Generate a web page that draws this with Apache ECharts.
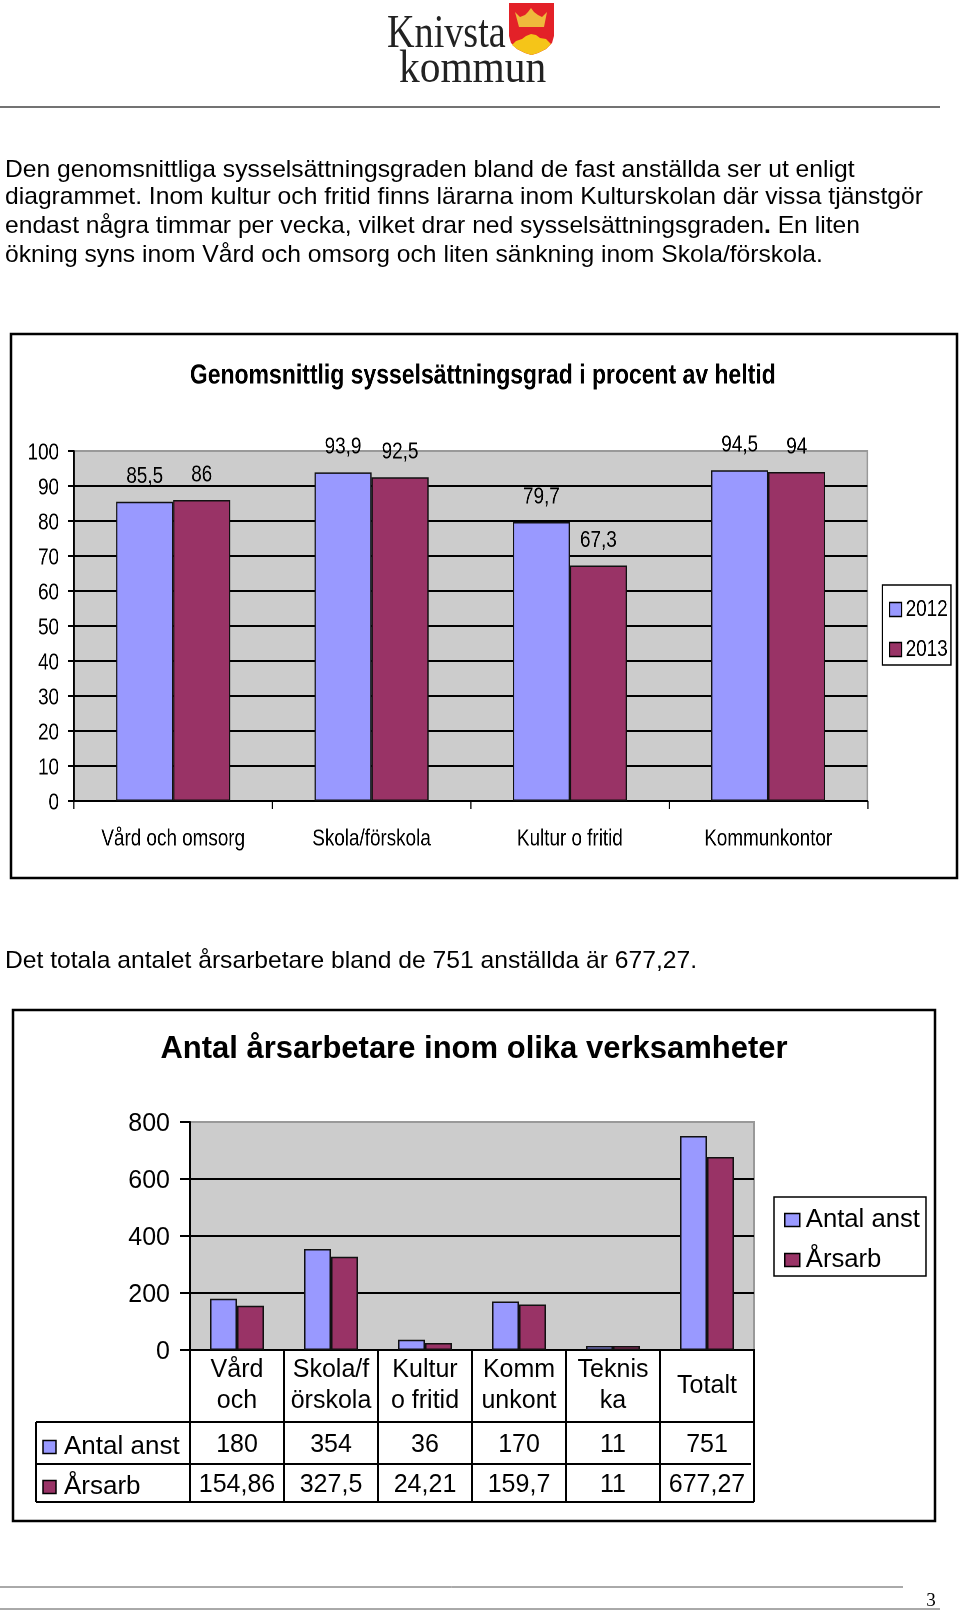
<!DOCTYPE html>
<html><head><meta charset="utf-8">
<style>html,body{margin:0;padding:0;background:#fff}#page{position:absolute;left:0;top:0;width:960px;height:1612px}
#c1{position:absolute;left:0;top:320px;width:1170.7px;height:560px;transform:scaleX(.82);transform-origin:0 0}</style>
<script src="https://cdn.jsdelivr.net/npm/echarts@6/dist/echarts.min.js"></script>
</head><body><div id="page"></div><div id="c1"></div>
<script>
const bodyLines = [
 'Den genomsnittliga sysselsättningsgraden bland de fast anställda ser ut enligt',
 'diagrammet. Inom kultur och fritid finns lärarna inom Kulturskolan där vissa tjänstgör',
 'endast några timmar per vecka, vilket drar ned sysselsättningsgraden{b|.} En liten',
 'ökning syns inom Vård och omsorg och liten sänkning inom Skola/förskola.'
];
const bodyAfter = 'Det totala antalet årsarbetare bland de 751 anställda är 677,27.';
const title1 = 'Genomsnittlig sysselsättningsgrad i procent av heltid';
const title2 = 'Antal årsarbetare inom olika verksamheter';
const cats1 = ['Vård och omsorg','Skola/förskola','Kultur o fritid','Kommunkontor'];
const y2012 = [85.5, 93.9, 79.7, 94.5];
const y2013 = [86, 92.5, 67.3, 94];
const cats2 = ['Vård\noch','Skola/f\nörskola','Kultur\no fritid','Komm\nunkont','Teknis\nka','Totalt'];
const antalAnst = [180, 354, 36, 170, 11, 751];
const arsarb = [154.86, 327.5, 24.21, 159.7, 11, 677.27];
const BLUE='#9999FF', PLUM='#993366', INK='#000';
const SANS='"Liberation Sans",Arial,sans-serif', SERIF='"Liberation Serif",serif';
const comma = v => String(v).replace('.',',');
const SX=.82, ix=x=>x/SX;

const page = echarts.init(document.getElementById('page'), null, {width:960,height:1612});
const c1 = echarts.init(document.getElementById('c1'), null, {width:1170.7,height:560,devicePixelRatio:2});

function T(x,y,text,o={}){
  return {type:'text',x,y,silent:true,z:o.z||5,scaleX:o.sx||1,scaleY:o.sy||1,style:{text,fill:o.fill||INK,
    font:(o.bold?'bold ':'')+(o.size||24)+'px '+(o.fam||SANS),textAlign:o.align||'left',textVerticalAlign:'middle',rich:o.rich}};
}
function L(x1,y1,x2,y2,w,c){return {type:'line',silent:true,z:4,shape:{x1,y1,x2,y2},style:{stroke:c||INK,lineWidth:w||1.5}};}
function R(x,y,w,h,fill,lw){return {type:'rect',silent:true,z:4,shape:{x,y,width:w,height:h},style:{fill:fill||'none',stroke:INK,lineWidth:lw||1.5}};}
function P(points,fill,z){return {type:'polygon',silent:true,z:z||5,shape:{points},style:{fill}};}

const g=[];
// logo
g.push(T(387,35,'Knivsta',{fam:SERIF,size:46,sx:.83,fill:'#222'}));
g.push(T(399,70,'kommun',{fam:SERIF,size:46,sx:.9,fill:'#222'}));
g.push(P([[509,3],[554,3],[554,36],[552,43],[546,49],[538,53],[531.5,55],[525,53],[517,49],[511,43],[509,36]],'#E32128'));
g.push(P([[512,45],[516,41],[522,39],[526,36],[531,34],[536,35],[540,38],[546,39],[551,44],[546,49],[538,53],[531.5,55],[525,53],[517,49]],'#F5C518',6));
g.push(P([[515,12],[520,17],[525,15],[528,12],[531,8],[534,12],[538,15],[542,17],[547,12],[544,27],[519,27]],'#EFB93C',6));
g.push(L(0,107,940,107,1.5,'#444'));
// text
const bodyY=[170,197,226,255];
bodyLines.forEach((t,i)=>g.push(T(5,bodyY[i],t,{size:24,sx:1.027,rich:{b:{font:'bold 24px '+SANS,fill:INK}}})));
g.push(T(5,961,bodyAfter,{size:24,sx:1.027}));
// frames
g.push(R(11,334,946,544,null,2.5));
g.push(R(13,1010,922,511,null,2.5));
// table of chart 2
const tx0=190, band=94, rows=[1422,1464,1502], right=754;
rows.forEach((y,i)=>g.push(L(36,y,i===1?751:right,y,2)));
g.push(L(36,1422,36,1502,2));
for(let i=0;i<=cats2.length;i++) g.push(L(tx0+band*i,1349,tx0+band*i,1502,2));
[[antalAnst,1445,BLUE,'Antal anst',1447],[arsarb,1485,PLUM,'Årsarb',1487]].forEach(([arr,y,col,name,ky])=>{
  g.push(R(43,ky-6.5,13,13,col,1.5));
  g.push(T(64,ky,name,{size:26}));
  arr.forEach((v,i)=>g.push(T(tx0+band*(i+.5),y,comma(v),{size:25,align:'center'})));
});
// footer
g.push(L(0,1587,903,1587,1,'#555'));
g.push(L(0,1609,940,1609,1,'#555'));
g.push(T(931,1601,'3',{fam:SERIF,size:19,align:'center'}));

const grid=(left,top,width,height)=>({left,top,width,height,show:true,backgroundColor:'#CCCCCC',borderColor:'#999',borderWidth:2,containLabel:false});
const bar=(name,data,color,w,label,minH)=>({type:'bar',name,data,barWidth:w,barGap:0,barMinHeight:minH||0,
  itemStyle:{color,borderColor:'#111',borderWidth:1.5},label,silent:true,animation:false});
const lab1={show:true,position:'top',distance:13.5,color:INK,fontFamily:SANS,fontSize:23,formatter:p=>comma(p.value)};
const catAxis=(data,margin,tickLen,size,lh)=>({type:'category',data,
  axisLine:{lineStyle:{color:INK,width:2}},axisTick:{show:tickLen>0,length:tickLen,alignWithLabel:false,lineStyle:{color:INK,width:1.5}},
  axisLabel:{interval:0,margin,color:INK,fontFamily:SANS,fontSize:size,lineHeight:lh,verticalAlign:'middle',align:'center'}});
const valAxis=(max,interval,margin,tickLen,size)=>({type:'value',min:0,max,interval,
  axisLine:{show:true,lineStyle:{color:INK,width:2}},axisTick:{show:true,length:tickLen,lineStyle:{color:INK,width:2}},
  axisLabel:{margin,color:INK,formatter:'{a|{value}}',rich:{a:{fontFamily:SANS,fontSize:size,color:INK,padding:[4,0,0,0]}}},
  splitLine:{show:true,showMinLine:false,showMaxLine:false,lineStyle:{color:INK,width:2}}});
const legend=(data,left,top,itemW,itemH,gap,pad,size,iconGap)=>({data,left,top,orient:'vertical',itemWidth:itemW,itemHeight:itemH,itemGap:gap,padding:pad,
  borderColor:INK,borderWidth:1.5,icon:'rect',selectedMode:false,textStyle:{color:INK,fontFamily:SANS,fontSize:size,padding:[0,0,0,iconGap-5]},
  itemStyle:{borderColor:INK,borderWidth:1.5}});

c1.setOption({
  animation:false,
  backgroundColor:'transparent',
  title:{text:title1,left:ix(478.5),top:51,textAlign:'center',textVerticalAlign:'middle',textStyle:{fontFamily:SANS,fontWeight:'bold',fontSize:28,color:INK}},
  legend:legend(['2012','2013'],ix(882),265,ix(12),14,17,[13,4,4,8],23,5),
  grid:grid(ix(74),131,ix(793),350),
  xAxis:catAxis(cats1,38,8,23,26),
  yAxis:valAxis(100,10,ix(15),ix(6),23),
  series:[bar('2012',y2012,BLUE,ix(57),lab1),bar('2013',y2013,PLUM,ix(57),lab1)]
});

page.setOption({
  animation:false,
  backgroundColor:'#fff',
  title:{text:title2,left:469,top:1044,textAlign:'center',textVerticalAlign:'middle',textStyle:{fontFamily:SANS,fontWeight:'bold',fontSize:31,color:INK}},
  legend:legend(['Antal anst','Årsarb'],774,1197,15,13,14,[10,6,3,10],25.7,6),
  grid:grid(190,1122,564,228),
  xAxis:catAxis(cats2,36,0,25,31),
  yAxis:valAxis(800,200,20,10,25),
  series:[bar('Antal anst',antalAnst,BLUE,27,undefined,4),bar('Årsarb',arsarb,PLUM,27,undefined,4)],
  graphic:{elements:g}
});
</script></body></html>
